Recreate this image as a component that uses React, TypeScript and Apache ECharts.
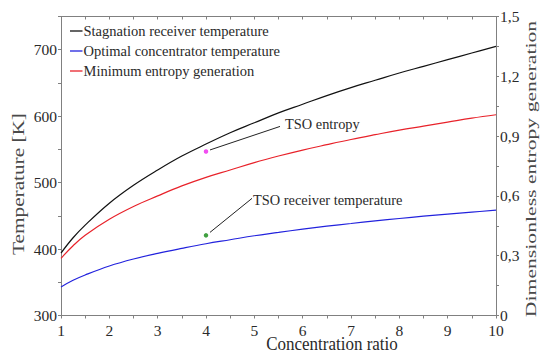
import React, { useEffect, useRef } from "react";
import * as echarts from "echarts";

const concentrationRatio = [1, 1.25, 1.5, 2, 2.5, 3, 3.5, 4, 4.5, 5, 5.5, 6, 6.5, 7, 7.5, 8, 8.5, 9, 9.5, 10];
const stagnationTemp = [394, 417, 436, 469, 496, 519, 540, 558, 575, 590, 605, 618, 631, 643, 654, 665, 675, 685, 695, 705];
const optimalTemp = [343, 353, 361, 374.5, 385, 393.5, 401, 408, 414, 420, 425, 430, 434.5, 438.5, 442.5, 446, 449.5, 452.5, 455.5, 458.6];
const minEntropy = [0.287, 0.35, 0.403, 0.483, 0.547, 0.6, 0.65, 0.693, 0.73, 0.767, 0.8, 0.83, 0.857, 0.883, 0.907, 0.93, 0.95, 0.97, 0.99, 1.007];

const seriesNames = ["Stagnation receiver temperature", "Optimal concentrator temperature", "Minimum entropy generation"];
const seriesColors = ["#111111", "#2222dd", "#e8222a"];

const tsoEntropyPoint = [4, 0.823];
const tsoReceiverPoint = [4, 420.6];
const tsoEntropyLabel = "TSO entropy";
const tsoReceiverLabel = "TSO receiver temperature";

const xName = "Concentration ratio";
const yLeftName = "Temperature [K]";
const yRightName = "Dimensionless entropy generation";

const FONT = "Liberation Serif";
const AXIS_COLOR = "#808080";
const TEXT_COLOR = "#2a2a2a";

export default function App() {
  const ref = useRef<HTMLDivElement>(null);
  useEffect(() => {
    if (!ref.current) return;
    const chart = echarts.init(ref.current, null, { renderer: "svg" });
    const zip = (ys: number[]) => concentrationRatio.map((x, i) => [x, ys[i]]);
    const axisCommon = {
      axisLine: { show: true, lineStyle: { color: AXIS_COLOR, width: 1 } },
      axisTick: { show: true, inside: false, length: 3, lineStyle: { color: AXIS_COLOR } },
      minorTick: { show: true, splitNumber: 2, length: 3, lineStyle: { color: AXIS_COLOR } },
      splitLine: { show: false },
      minorSplitLine: { show: false },
    };
    const labelStyle = { fontFamily: FONT, fontSize: 15.5, color: TEXT_COLOR, fontWeight: "normal" };
    chart.setOption({
      animation: false,
      textStyle: { fontFamily: FONT },
      grid: { left: 61, right: 44, top: 16.5, bottom: 38.5 },
      legend: {
        orient: "vertical",
        left: 70,
        top: 23.5,
        padding: 0,
        icon: "rect",
        itemWidth: 12.5,
        itemHeight: 1.3,
        itemGap: 5,
        textStyle: { fontFamily: FONT, fontSize: 14.5, color: TEXT_COLOR, lineHeight: 14.5, padding: [0, 0, 0, -4] },
        data: seriesNames,
      },
      xAxis: [
        {
          type: "value",
          min: 1,
          max: 10,
          interval: 1,
          position: "bottom",
          ...axisCommon,
          axisLabel: { ...labelStyle, margin: 7 },
        },
        {
          type: "value",
          min: 1,
          max: 10,
          interval: 1,
          position: "top",
          ...axisCommon,
          axisTick: { show: true, inside: true, length: 3, lineStyle: { color: AXIS_COLOR } },
          axisLabel: { show: false },
        },
      ],
      yAxis: [
        {
          type: "value",
          min: 300,
          max: 750,
          interval: 100,
          position: "left",
          ...axisCommon,
          axisLabel: { ...labelStyle, margin: 4, showMaxLabel: false },
        },
        {
          type: "value",
          min: 0,
          max: 1.5,
          interval: 0.3,
          position: "right",
          ...axisCommon,
          axisLabel: {
            ...labelStyle,
            margin: 4,
            formatter: (v: number) => (v === 0 ? "0" : v.toFixed(1).replace(".", ",")),
          },
        },
      ],
      series: [
        {
          name: seriesNames[0],
          type: "line",
          xAxisIndex: 0,
          yAxisIndex: 0,
          data: zip(stagnationTemp),
          smooth: 0.4,
          showSymbol: false,
          lineStyle: { color: seriesColors[0], width: 1.2 },
          itemStyle: { color: seriesColors[0] },
        },
        {
          name: seriesNames[1],
          type: "line",
          xAxisIndex: 0,
          yAxisIndex: 0,
          data: zip(optimalTemp),
          smooth: 0.4,
          showSymbol: false,
          lineStyle: { color: seriesColors[1], width: 1.2 },
          itemStyle: { color: seriesColors[1] },
        },
        {
          name: seriesNames[2],
          type: "line",
          xAxisIndex: 0,
          yAxisIndex: 1,
          data: zip(minEntropy),
          smooth: 0.4,
          showSymbol: false,
          lineStyle: { color: seriesColors[2], width: 1.2 },
          itemStyle: { color: seriesColors[2] },
        },
        {
          name: tsoEntropyLabel,
          type: "scatter",
          xAxisIndex: 0,
          yAxisIndex: 1,
          data: [tsoEntropyPoint],
          symbol: "circle",
          symbolSize: 4.5,
          itemStyle: { color: "#ee22ee" },
        },
        {
          name: tsoReceiverLabel,
          type: "scatter",
          xAxisIndex: 0,
          yAxisIndex: 0,
          data: [tsoReceiverPoint],
          symbol: "circle",
          symbolSize: 4.5,
          itemStyle: { color: "#118811" },
        },
      ],
    });

    const pE = chart.convertToPixel({ xAxisIndex: 0, yAxisIndex: 1 }, tsoEntropyPoint) as number[];
    const pR = chart.convertToPixel({ xAxisIndex: 0, yAxisIndex: 0 }, tsoReceiverPoint) as number[];
    const annText = (x: number, y: number, text: string) => ({
      type: "text",
      x,
      y,
      style: { text, fontFamily: FONT, fontSize: 14.4, fill: TEXT_COLOR, align: "left", verticalAlign: "middle" },
    });
    chart.setOption({
      graphic: [
        {
          type: "line",
          shape: { x1: pE[0] + 4, y1: pE[1] - 1.5, x2: pE[0] + 74, y2: pE[1] - 25 },
          style: { stroke: "#222", lineWidth: 1 },
        },
        annText(pE[0] + 79, pE[1] - 27, tsoEntropyLabel),
        {
          type: "line",
          shape: { x1: pR[0] + 4, y1: pR[1] - 3, x2: pR[0] + 46, y2: pR[1] - 37 },
          style: { stroke: "#222", lineWidth: 1 },
        },
        annText(pR[0] + 47, pR[1] - 35, tsoReceiverLabel),
        {
          type: "text",
          x: 332,
          y: 344,
          scaleY: 1.1,
          style: { text: xName, fontFamily: FONT, fontSize: 17, fill: TEXT_COLOR, align: "center", verticalAlign: "middle" },
        },
        {
          type: "text",
          x: 18,
          y: 184,
          rotation: Math.PI / 2,
          scaleX: 1.25,
          style: { text: yLeftName, fontFamily: FONT, fontSize: 17, fill: "#4a4a4a", align: "center", verticalAlign: "middle" },
        },
        {
          type: "text",
          x: 531,
          y: 169,
          rotation: Math.PI / 2,
          scaleX: 1.4,
          style: { text: yRightName, fontFamily: FONT, fontSize: 15.5, fill: "#4a4a4a", align: "center", verticalAlign: "middle" },
        },
      ],
    });
    return () => chart.dispose();
  }, []);
  return <div ref={ref} style={{ position: "fixed", left: 0, top: 0, width: 540, height: 354, background: "#fff" }} />;
}
